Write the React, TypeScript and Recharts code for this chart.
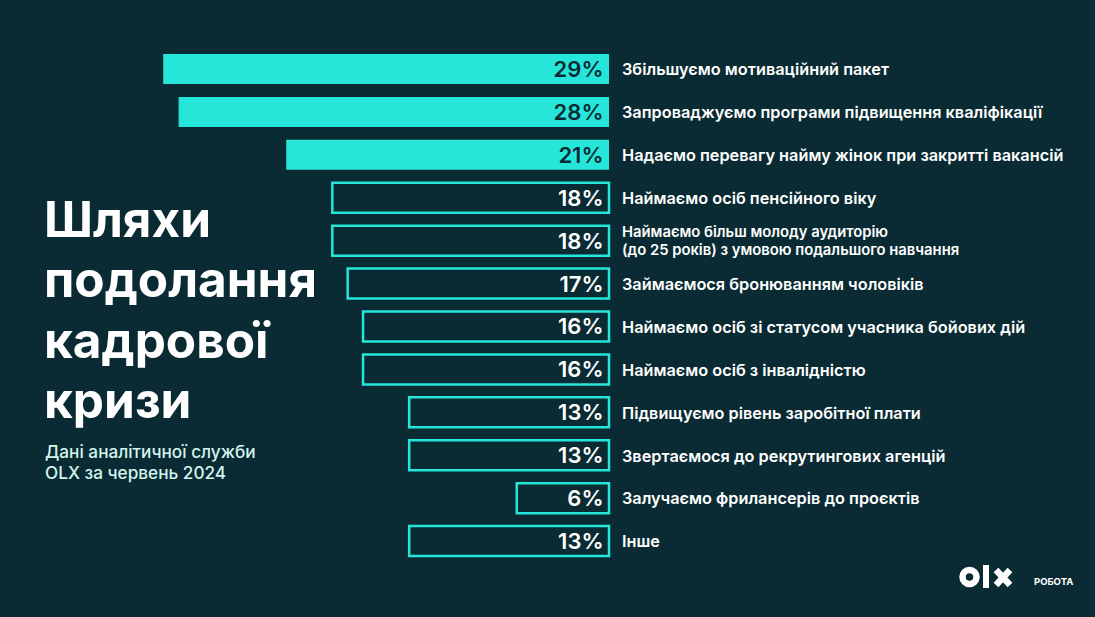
import React from 'react';
import { BarChart, Bar, XAxis, YAxis, Cell, LabelList } from 'recharts';

const categories = [
  'Збільшуємо мотиваційний пакет',
  'Запроваджуємо програми підвищення кваліфікації',
  'Надаємо перевагу найму жінок при закритті вакансій',
  'Наймаємо осіб пенсійного віку',
  'Наймаємо більш молоду аудиторію\n(до 25 років) з умовою подальшого навчання',
  'Займаємося бронюванням чоловіків',
  'Наймаємо осіб зі статусом учасника бойових дій',
  'Наймаємо осіб з інвалідністю',
  'Підвищуємо рівень заробітної плати',
  'Звертаємося до рекрутингових агенцій',
  'Залучаємо фрилансерів до проєктів',
  'Інше',
];
const values = [29, 28, 21, 18, 18, 17, 16, 16, 13, 13, 6, 13];
const highlighted = [true, true, true, false, false, false, false, false, false, false, false, false];

const titleLines = ['Шляхи', 'подолання', 'кадрової', 'кризи'];
const subtitleLines = ['Дані аналітичної служби', 'OLX за червень 2024'];

const BG = '#0a2b33';
const CYAN = '#26e6d9';
const FONT = 'Inter, "Noto Sans", sans-serif';

const data = categories.map((name, i) => ({ name, value: values[i], hi: highlighted[i] }));

const CategoryTick = (props: any) => {
  const { x, y, payload } = props;
  const lines = String(payload.value).split('\n');
  const multi = lines.length > 1;
  const lh = 18;
  const start = y - ((lines.length - 1) * lh) / 2;
  return (
    <g>
      {lines.map((l, i) => (
        <text
          key={i}
          x={x}
          y={start + i * lh}
          dy="0.36em"
          fill="#ffffff"
          fontFamily={FONT}
          fontSize={multi ? 14.8 : 16.3}
          fontWeight={600}
        >
          {l}
        </text>
      ))}
    </g>
  );
};

const PercentLabel = (props: any) => {
  const { x, y, width, height, value, index } = props;
  const right = Math.max(x, x + width);
  return (
    <text
      x={right - 5.5}
      y={y + height / 2}
      dy="0.36em"
      textAnchor="end"
      fill={highlighted[index] ? BG : '#ffffff'}
      fontFamily={FONT}
      fontSize={22}
      fontWeight={600}
    >
      {`${value}%`}
    </text>
  );
};

export default function App() {
  return (
    <div style={{ position: 'absolute', left: 0, top: 0, width: 1095, height: 617, background: BG, overflow: 'hidden' }}>
      <BarChart
        width={1095}
        height={617}
        data={data}
        layout="vertical"
        margin={{ top: 48, right: 0, left: 71, bottom: 54 }}
        barSize={30}
      >
        <XAxis type="number" domain={[0, 35]} reversed hide />
        <YAxis
          type="category"
          dataKey="name"
          orientation="right"
          width={486}
          axisLine={false}
          tickLine={false}
          tickSize={0}
          tickMargin={13}
          interval={0}
          tick={<CategoryTick />}
        />
        <Bar dataKey="value" isAnimationActive={false} stroke={CYAN} strokeWidth={2}>
          {data.map((d, i) => (
            <Cell key={i} fill={d.hi ? CYAN : BG} stroke={CYAN} strokeWidth={d.hi ? 0 : 2.5} />
          ))}
          <LabelList dataKey="value" content={<PercentLabel />} />
        </Bar>
      </BarChart>
      <svg width={1095} height={617} style={{ position: 'absolute', left: 0, top: 0, pointerEvents: 'none' }}>
        {titleLines.map((t, i) => (
          <text key={t} x={44} y={237 + i * 60.3} fill="#ffffff" fontFamily={FONT} fontSize={49.5} fontWeight={700}>
            {t}
          </text>
        ))}
        {subtitleLines.map((t, i) => (
          <text key={t} x={45} y={458 + i * 21} fill="#d2f5ee" fontFamily={FONT} fontSize={17.2} fontWeight={500}>
            {t}
          </text>
        ))}
        <circle cx={969.5} cy={577} r={7} fill="none" stroke="#ffffff" strokeWidth={6.5} />
        <rect x={983} y={565} width={6} height={23} fill="#ffffff" />
        <path d="M996 570 L1010 585 M1010 570 L996 585" stroke="#ffffff" strokeWidth={6.5} />
        <text x={1034} y={585} fill="#ffffff" fontFamily={FONT} fontSize={9.5} fontWeight={700}>
          РОБОТА
        </text>
      </svg>
    </div>
  );
}
